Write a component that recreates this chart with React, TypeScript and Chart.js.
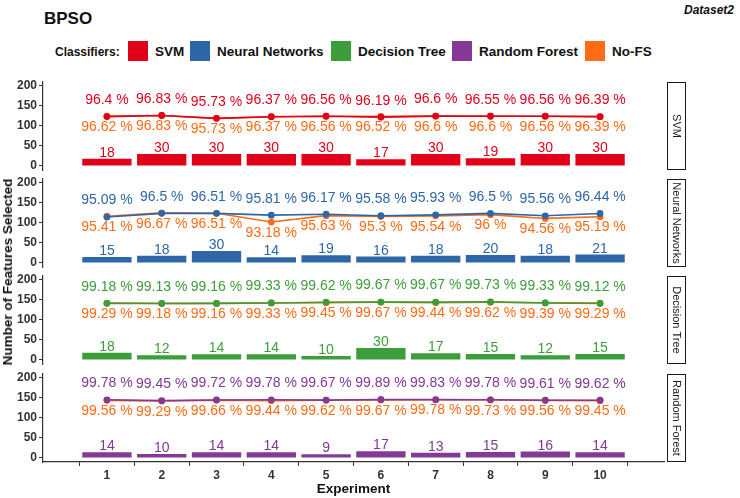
import React, { useEffect, useRef } from "react";
import { Chart, registerables } from "chart.js";

Chart.register(...registerables);

// ---------- data ----------
const experiments = [1, 2, 3, 4, 5, 6, 7, 8, 9, 10];
const yTickValues = [0, 50, 100, 150, 200];
const classifierNames = ["SVM", "Neural Networks", "Decision Tree", "Random Forest"];

const svmFeatures = [18, 30, 30, 30, 30, 17, 30, 19, 30, 30];
const svmAccuracy = [96.4, 96.83, 95.73, 96.37, 96.56, 96.19, 96.6, 96.55, 96.56, 96.39];
const svmNoFS = [96.62, 96.83, 95.73, 96.37, 96.56, 96.52, 96.6, 96.6, 96.56, 96.39];

const nnFeatures = [15, 18, 30, 14, 19, 16, 18, 20, 18, 21];
const nnAccuracy = [95.09, 96.5, 96.51, 95.81, 96.17, 95.58, 95.93, 96.5, 95.56, 96.44];
const nnNoFS = [95.41, 96.67, 96.51, 93.18, 95.63, 95.3, 95.54, 96, 94.56, 95.19];

const dtFeatures = [18, 12, 14, 14, 10, 30, 17, 15, 12, 15];
const dtAccuracy = [99.18, 99.13, 99.16, 99.33, 99.62, 99.67, 99.67, 99.73, 99.33, 99.12];
const dtNoFS = [99.29, 99.18, 99.16, 99.33, 99.45, 99.67, 99.44, 99.62, 99.39, 99.29];

const rfFeatures = [14, 10, 14, 14, 9, 17, 13, 15, 16, 14];
const rfAccuracy = [99.78, 99.45, 99.72, 99.78, 99.67, 99.89, 99.83, 99.78, 99.61, 99.62];
const rfNoFS = [99.56, 99.29, 99.66, 99.44, 99.62, 99.67, 99.78, 99.73, 99.56, 99.45];

const legendLabels = ["SVM", "Neural Networks", "Decision Tree", "Random Forest", "No-FS"];

// ---------- styles ----------
const COLORS = ["#E0001A", "#2D67A8", "#3C9E3A", "#833995"];
const NOFS_COLOR = "#FF6A14";
const LEGEND_COLORS = [...COLORS, NOFS_COLOR];
const FONT = "'Liberation Sans', Arial, sans-serif";

const X_LEFT = 43;
const X_RIGHT = 664;
const PANEL_TOPS = [82, 179, 276, 374];
const PANEL_H = 88;
const PAD_TOP = 12;
const ACC_BASE = 77.5;
const ACC_SCALE = 6.5;
const toAxis = (a: number) => (a - ACC_BASE) * ACC_SCALE;

const panels = [
  { name: classifierNames[0], color: COLORS[0], features: svmFeatures, acc: svmAccuracy, nofs: svmNoFS },
  { name: classifierNames[1], color: COLORS[1], features: nnFeatures, acc: nnAccuracy, nofs: nnNoFS },
  { name: classifierNames[2], color: COLORS[2], features: dtFeatures, acc: dtAccuracy, nofs: dtNoFS },
  { name: classifierNames[3], color: COLORS[3], features: rfFeatures, acc: rfAccuracy, nofs: rfNoFS },
];

function Panel({ idx }: { idx: number }) {
  const ref = useRef<HTMLCanvasElement>(null);
  const isLast = idx === panels.length - 1;
  const height = PAD_TOP + PANEL_H + (isLast ? 22 : 8);
  const p = panels[idx];

  useEffect(() => {
    if (!ref.current) return;
    const axisColor = "#333333";
    const tickFont = { family: FONT, size: 12, weight: "bold" as const };

    const labelPlugin = {
      id: "panelLabels",
      afterDatasetsDraw(chart: any) {
        const { ctx, scales } = chart;
        const xs = scales.x;
        const ys = scales.y;
        ctx.save();
        ctx.font = `14px ${FONT}`;
        ctx.textAlign = "center";
        experiments.forEach((e, i) => {
          const px = xs.getPixelForValue(e);
          ctx.fillStyle = p.color;
          ctx.textBaseline = "middle";
          ctx.fillText(`${p.acc[i]} %`, px, ys.getPixelForValue(toAxis(p.acc[i]) + 41));
          ctx.fillStyle = NOFS_COLOR;
          ctx.fillText(`${p.nofs[i]} %`, px, ys.getPixelForValue(toAxis(p.nofs[i]) - 27));
          ctx.fillStyle = p.color;
          ctx.textBaseline = "alphabetic";
          ctx.fillText(String(p.features[i]), px, ys.getPixelForValue(p.features[i]) - 2);
        });
        ctx.restore();
      },
      afterDraw(chart: any) {
        const { ctx, chartArea } = chart;
        ctx.save();
        const sx = 667;
        const sw = 19;
        ctx.fillStyle = "#FFFFFF";
        ctx.fillRect(sx, chartArea.top, sw, chartArea.bottom - chartArea.top);
        ctx.strokeStyle = "#1A1A1A";
        ctx.lineWidth = 1;
        ctx.strokeRect(sx + 0.5, chartArea.top + 0.5, sw - 1, chartArea.bottom - chartArea.top - 1);
        ctx.translate(sx + sw / 2, (chartArea.top + chartArea.bottom) / 2);
        ctx.rotate(Math.PI / 2);
        ctx.fillStyle = "#1A1A1A";
        ctx.font = `11px ${FONT}`;
        ctx.textAlign = "center";
        ctx.textBaseline = "middle";
        ctx.fillText(p.name, 0, 0);
        ctx.restore();
      },
    };

    const chart = new Chart(ref.current, {
      data: {
        datasets: [
          {
            type: "line",
            data: experiments.map((e, i) => ({ x: e, y: toAxis(p.acc[i]) })),
            borderColor: p.color,
            backgroundColor: p.color,
            borderWidth: 1.6,
            pointRadius: 3.4,
            pointHoverRadius: 3.4,
            pointBorderWidth: 0,
            order: 0,
          },
          {
            type: "line",
            data: experiments.map((e, i) => ({ x: e, y: toAxis(p.nofs[i]) })),
            borderColor: NOFS_COLOR,
            backgroundColor: NOFS_COLOR,
            borderWidth: 1.6,
            pointRadius: 3.4,
            pointHoverRadius: 3.4,
            pointBorderWidth: 0,
            order: 1,
          },
          {
            type: "bar",
            data: experiments.map((e, i) => ({ x: e, y: p.features[i] })),
            backgroundColor: p.color,
            barPercentage: 0.9,
            categoryPercentage: 1,
            order: 2,
          },
        ],
      } as any,
      options: {
        animation: false,
        responsive: false,
        maintainAspectRatio: false,
        devicePixelRatio: 1,
        events: [],
        layout: {
          autoPadding: false,
          padding: { left: 0, right: 740 - X_RIGHT, top: PAD_TOP, bottom: isLast ? 0 : 8 },
        },
        plugins: { legend: { display: false }, tooltip: { enabled: false } },
        scales: {
          x: {
            type: "linear",
            min: 0.4,
            max: 10.6,
            display: isLast,
            afterBuildTicks: (s: any) => {
              s.ticks = experiments.map((v) => ({ value: v }));
            },
            afterFit: (s: any) => {
              s.height = isLast ? 22 : 0;
              s.paddingLeft = 0;
              s.paddingRight = 0;
              s.paddingTop = 0;
              s.paddingBottom = 0;
            },
            grid: { display: true, drawOnChartArea: false, drawTicks: true, tickLength: 4, color: axisColor, lineWidth: 1 },
            border: { display: true, color: axisColor, width: 1.2 },
            ticks: { font: tickFont, color: axisColor, padding: 2, maxRotation: 0, autoSkip: false },
          },
          y: {
            type: "linear",
            min: -10,
            max: 209,
            afterBuildTicks: (s: any) => {
              s.ticks = yTickValues.map((v) => ({ value: v }));
            },
            afterFit: (s: any) => {
              s.width = X_LEFT;
              s.paddingTop = 0;
              s.paddingBottom = 0;
              s.paddingLeft = 0;
              s.paddingRight = 0;
            },
            grid: { display: true, drawOnChartArea: false, drawTicks: true, tickLength: 4, color: axisColor, lineWidth: 1 },
            border: { display: true, color: axisColor, width: 1.2 },
            ticks: { font: tickFont, color: axisColor, padding: 2, autoSkip: false },
          },
        },
      } as any,
      plugins: [labelPlugin],
    });
    return () => chart.destroy();
  }, [idx]);

  return (
    <canvas
      ref={ref}
      width={740}
      height={height}
      style={{ position: "absolute", left: 0, top: PANEL_TOPS[idx] - PAD_TOP, width: 740, height }}
    />
  );
}

export default function App() {
  const legendBoxX = [128, 190, 331, 452, 585];
  return (
    <div
      style={{
        position: "absolute",
        left: 0,
        top: 0,
        width: 740,
        height: 498,
        background: "#FFFFFF",
        overflow: "hidden",
        fontFamily: FONT,
      }}
    >
      <div style={{ position: "absolute", left: 44, top: 10, fontSize: 17, fontWeight: "bold", lineHeight: "18px", color: "#111" }}>
        BPSO
      </div>
      <div
        style={{
          position: "absolute",
          right: 6,
          top: 3,
          fontSize: 12,
          fontWeight: "bold",
          fontStyle: "italic",
          lineHeight: "14px",
          color: "#111",
        }}
      >
        Dataset2
      </div>
      <div style={{ position: "absolute", left: 55, top: 45, fontSize: 12, fontWeight: "bold", lineHeight: "14px", color: "#111" }}>
        Classifiers:
      </div>
      {legendLabels.map((lab, i) => (
        <React.Fragment key={lab}>
          <div
            style={{
              position: "absolute",
              left: legendBoxX[i],
              top: 41,
              width: 20,
              height: 20,
              background: LEGEND_COLORS[i],
            }}
          />
          <div
            style={{
              position: "absolute",
              left: legendBoxX[i] + 27,
              top: 44,
              fontSize: 13.5,
              fontWeight: "bold",
              lineHeight: "16px",
              color: "#111",
              whiteSpace: "nowrap",
            }}
          >
            {lab}
          </div>
        </React.Fragment>
      ))}
      {panels.map((_, i) => (
        <Panel key={i} idx={i} />
      ))}
      <div
        style={{
          position: "absolute",
          left: 8,
          top: 272,
          transform: "translate(-50%, -50%) rotate(-90deg)",
          fontSize: 13.5,
          fontWeight: "bold",
          whiteSpace: "nowrap",
          lineHeight: "16px",
          color: "#111",
        }}
      >
        Number of Features Selected
      </div>
      <div
        style={{
          position: "absolute",
          left: (X_LEFT + X_RIGHT) / 2,
          top: 489,
          transform: "translate(-50%, -50%)",
          fontSize: 13.5,
          fontWeight: "bold",
          whiteSpace: "nowrap",
          lineHeight: "16px",
          color: "#111",
        }}
      >
        Experiment
      </div>
    </div>
  );
}
